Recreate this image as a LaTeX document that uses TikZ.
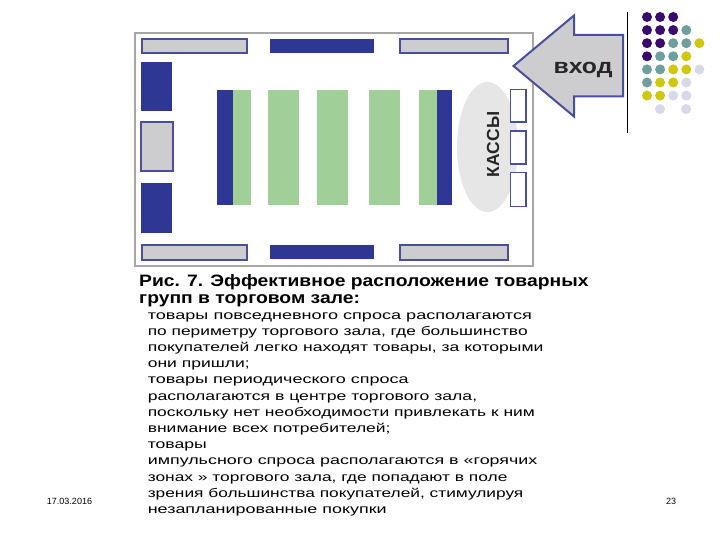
\documentclass[tikz,border=0pt]{standalone}
\usepackage{fontspec}
\usetikzlibrary{shapes.geometric}
\setmainfont{Liberation Sans}
\definecolor{navy}{HTML}{2E3794}
\definecolor{edgeblue}{HTML}{474F9E}
\definecolor{shelfgray}{HTML}{CDCDD0}
\definecolor{framegray}{HTML}{A6A6A6}
\definecolor{leaf}{HTML}{A0D098}
\definecolor{oval}{HTML}{E6E6E6}
\definecolor{dotp}{HTML}{3A0A6C}
\definecolor{dott}{HTML}{6E9E9E}
\definecolor{doty}{HTML}{CFC80F}
\definecolor{dotl}{HTML}{D8D8EA}
\tikzset{
  x=1pt,y=-1pt,
  bluerect/.style={fill=navy,draw=none},
  grayrect/.style={fill=shelfgray,draw=edgeblue,line width=2pt},
  greenrect/.style={fill=leaf,draw=none},
  till/.style={fill=white,draw=edgeblue,line width=1.7pt},
  titleline/.style={anchor=base west,inner sep=0pt,font=\fontsize{16.5}{18}\selectfont\bfseries,xscale=1.17},
  bodyline/.style={anchor=base west,inner sep=0pt,font=\fontsize{12.5}{14}\selectfont,xscale=#1},
  bodyline/.default=1.41,
  footer/.style={inner sep=0pt,font=\fontsize{9}{11}\selectfont},
  dotmark/.style={circle,inner sep=0pt,minimum size=10pt}
}
\newcommand{\dotrow}[2]{%
  \foreach \c [count=\i from 0] in {#2}{%
    \node[dotmark,fill=\c] (dot-#1-\i) at ({647+13.1*\i},{17+13.1*(#1-1)}) {};
  }}
\begin{document}
\begin{tikzpicture}
\useasboundingbox (0,0) rectangle (720,540);
\fill[white] (0,0) rectangle (720,540);
% hall
\draw[framegray,line width=2pt,fill=white] (134.5,33.5) rectangle (533,265.5);
% perimeter
\draw[grayrect] (142,39) rectangle (246.5,53.5);
\path[bluerect] (270,39) rectangle (374,53);
\draw[grayrect] (400,39) rectangle (507.5,53.5);
\draw[grayrect] (142,245) rectangle (246.5,259.5);
\path[bluerect] (270,245) rectangle (374,259);
\draw[grayrect] (400,245) rectangle (507.5,259.5);
\path[bluerect] (141,62) rectangle (172,111);
\draw[grayrect] (141,122) rectangle (172.5,171.5);
\path[bluerect] (141,183) rectangle (172,233);
% centre
\path[greenrect] (233,90) rectangle (251,205.5);
\path[bluerect] (217,90) rectangle (233,205.5);
\path[greenrect] (268,90) rectangle (299,205.5);
\path[greenrect] (317,90) rectangle (348,205.5);
\path[greenrect] (369,90) rectangle (400,205.5);
\path[greenrect] (419,90) rectangle (437,205.5);
\path[bluerect] (437,90) rectangle (452,205.5);
% tills
\node[ellipse,fill=oval,minimum width=61pt,minimum height=130pt,inner sep=0pt] (oval) at (487.5,147) {};
\draw[till] (510.5,89.5) rectangle (526,122);
\draw[till] (510.5,131) rectangle (526,164);
\draw[till] (510.5,172.5) rectangle (526,206.5);
\node[rotate=90,inner sep=0pt,font=\fontsize{17.5}{19}\selectfont\bfseries,text=black!85] (kassy) at (493,144.5) {КАССЫ};
% entrance arrow
\draw[fill=shelfgray,draw=edgeblue,line width=2pt,line join=miter] (513.5,66) -- (574,15.5) -- (574,35) -- (623,35) -- (623,96.5) -- (574,96.5) -- (574,116.5) -- cycle;
\node[anchor=base,inner sep=0pt,font=\fontsize{21}{23}\selectfont\bfseries,text=black!85,xscale=1.18] (entry) at (583,74) {вход};
% decoration
\coordinate (ruleA) at (627,12);
\coordinate (ruleB) at (627,133);
\draw[black,line width=0.8pt] (ruleA) -- (ruleB);
\dotrow{1}{dotp,dotp,dotp}
\dotrow{2}{dotp,dotp,dotp,dott}
\dotrow{3}{dotp,dotp,dott,dott,doty}
\dotrow{4}{dotp,dott,dott,doty}
\dotrow{5}{dott,dott,doty,doty,dotl}
\dotrow{6}{dott,doty,doty,dotl}
\dotrow{7}{doty,doty,dotl,dotl}
\node[dotmark,fill=dotl] (dot-8-1) at (660,109) {};
\node[dotmark,fill=dotl] (dot-8-3) at (686,109) {};
% caption
\node[titleline] (t1) at (139,286) {Рис. 7. Эффективное расположение товарных};
\node[titleline] (t2) at (139,303) {групп в торговом зале:};
\node[bodyline=1.448] (b1) at (147.5,319) {товары повседневного спроса располагаются};
\node[bodyline=1.388] (b2) at (147.5,335.2) {по периметру торгового зала, где большинство};
\node[bodyline=1.403] (b3) at (147.5,351.4) {покупателей легко находят товары, за которыми};
\node[bodyline=1.40] (b4) at (147.5,367.6) {они пришли;};
\node[bodyline=1.44] (b5) at (147.5,383.8) {товары периодического спроса};
\node[bodyline=1.41] (b6) at (147.5,400) {располагаются в центре торгового зала,};
\node[bodyline=1.395] (b7) at (147.5,416.2) {поскольку нет необходимости привлекать к ним};
\node[bodyline=1.40] (b8) at (147.5,432.4) {внимание всех потребителей;};
\node[bodyline=1.41] (b9) at (147.5,448.6) {товары};
\node[bodyline=1.43] (b10) at (147.5,464.8) {импульсного спроса располагаются в «горячих};
\node[bodyline=1.39] (b11) at (147.5,481) {зонах » торгового зала, где попадают в поле};
\node[bodyline=1.385] (b12) at (147.5,497.2) {зрения большинства покупателей, стимулируя};
\node[bodyline=1.435] (b13) at (147.5,513.4) {незапланированные покупки};
% footer
\node[footer] (date) at (69.5,501) {17.03.2016};
\node[footer] (page) at (671,501) {23};
\end{tikzpicture}
\end{document}
